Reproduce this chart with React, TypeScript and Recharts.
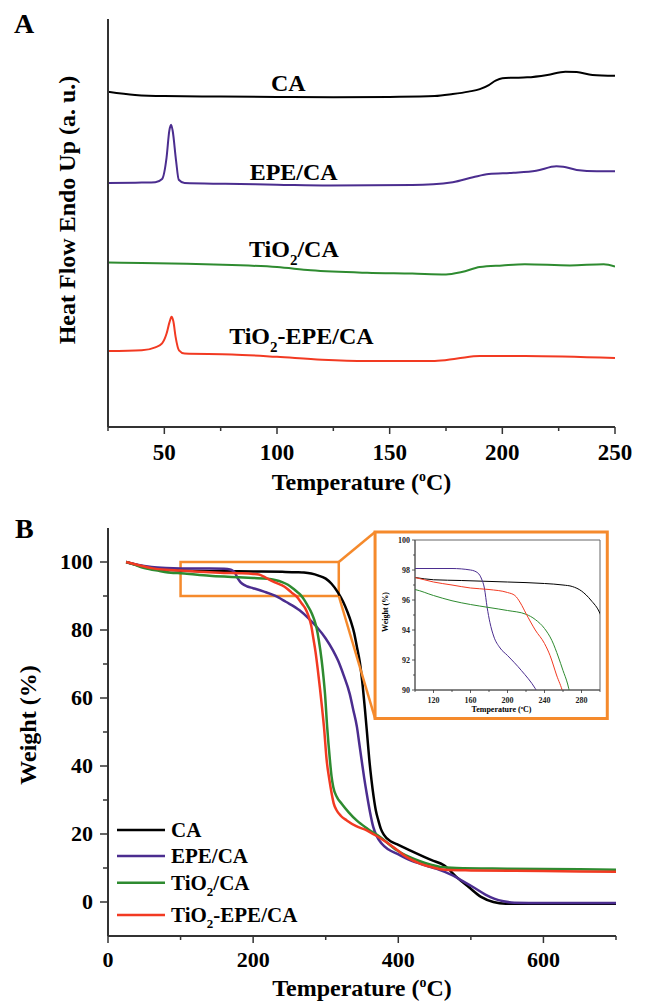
import React from 'react'
import {
  LineChart,
  Line,
  XAxis,
  YAxis,
  ReferenceArea,
  ReferenceLine,
  ReferenceDot,
  Legend,
} from 'recharts'

type Pt = [number, number]

// ---------- Panel A: DSC, heat flow in arbitrary units ----------
const dscTicks = [25, 50, 75, 100, 125, 150, 175, 200, 225, 250]

const dscCA: Pt[] = [
  [25, 82.2], [37, 81.4], [50, 81.1], [75, 81.0], [100, 80.9], [125, 80.8], [150, 80.9],
  [170, 81.1], [178, 81.6], [185, 82.2], [190, 82.8], [194, 83.8], [197, 84.9], [200, 85.5],
  [205, 85.6], [211, 85.7], [220, 86.3], [228, 87.1], [233, 87.0], [240, 86.3], [250, 86.1],
]
const dscEPE: Pt[] = [
  [25, 59.8], [40, 59.9], [46, 60.0], [49, 60.8], [51, 66.1], [52.2, 72.6], [53, 74.1],
  [53.7, 72.6], [55.2, 65.3], [56.4, 60.6], [59, 59.8], [77, 59.6], [100, 59.4], [123, 59.2],
  [160, 59.3], [178, 60.0], [187, 61.2], [194, 62.0], [205, 62.3], [215, 62.8], [224, 63.9],
  [227, 63.8], [233, 63.0], [242, 62.7], [250, 62.7],
]
const dscTiO2: Pt[] = [
  [25, 40.3], [40, 40.2], [60, 40.0], [80, 39.7], [100, 39.2], [115, 38.4], [140, 37.8],
  [160, 37.6], [175, 37.4], [182, 38.0], [190, 39.2], [200, 39.6], [210, 39.9], [230, 39.6],
  [245, 39.9], [250, 39.3],
]
const dscTiO2EPE: Pt[] = [
  [25, 18.6], [40, 18.8], [46, 19.5], [49, 20.5], [51, 22.9], [52.3, 25.7], [53.2, 27.0],
  [54, 25.9], [55, 22.1], [56.5, 18.8], [59, 18.0], [80, 17.8], [100, 17.2], [120, 16.5],
  [140, 16.2], [170, 16.2], [180, 16.8], [190, 17.4], [210, 17.4], [250, 16.9],
]
// where each curve name is written (data coordinates)
const dscLabelAt: Pt[] = [[105, 84.4], [107.4, 62.4], [107.5, 43.7], [110.8, 22.4]]

// ---------- Panel B: TGA, weight % ----------
const tgaXTicks = [0, 100, 200, 300, 400, 500, 600, 700]
const tgaYTicks = [0, 10, 20, 30, 40, 50, 60, 70, 80, 90, 100]

const tgaCA: Pt[] = [
  [25, 100], [40, 99.1], [60, 98.2], [80, 97.7], [100, 97.5], [120, 97.35], [150, 97.3],
  [200, 97.2], [240, 97.1], [260, 97.0], [270, 96.9], [280, 96.6], [290, 96.0], [300, 95.1],
  [308, 93.6], [317, 91.0], [324, 88.3], [330, 85.3], [335, 82.3], [339, 79.3], [343, 75.0],
  [347, 70.5], [351, 63.5], [354, 56.8], [357, 49.5], [360, 42.0], [363, 36.0], [366, 31.0],
  [369, 27.0], [372.5, 24.0], [376, 21.5], [380, 19.8], [390, 17.8], [398, 17.0], [416, 15.2],
  [446, 12.3], [463, 10.8], [480, 7.4], [497, 4.4], [514, 1.5], [531, 0], [548, -0.5],
  [600, -0.5], [700, -0.5],
]
const tgaEPE: Pt[] = [
  [25, 100], [40, 99.2], [60, 98.5], [80, 98.2], [100, 98.1], [140, 98.1], [160, 98.0],
  [168, 97.8], [172, 97.4], [175, 96.8], [178, 95.5], [181, 94.5], [185, 93.6], [192, 92.8],
  [200, 92.3], [215, 91.3], [230, 90.1], [245, 88.3], [264, 85.8], [276, 83.5], [288, 80.8],
  [300, 77.5], [310, 74.0], [317, 71.0], [325, 66.5], [333, 61.3], [338, 56.5], [343, 51.5],
  [346, 47.0], [349.5, 41.7], [353, 36.5], [356.5, 31.9], [361, 26.5], [365.6, 22.0],
  [370, 19.5], [377, 17.2], [386, 15.5], [398, 14.2], [416, 12.3], [440, 10.6], [452, 9.8],
  [475, 7.8], [490, 6.0], [503, 4.4], [520, 2.2], [532, 1.0], [545, 0.2], [560, -0.2],
  [600, -0.3], [700, -0.3],
]
const tgaTiO2: Pt[] = [
  [25, 100], [35, 99.3], [50, 98.2], [70, 97.4], [90, 96.8], [100, 96.7], [120, 96.3],
  [140, 95.95], [160, 95.7], [180, 95.5], [200, 95.3], [220, 95.05], [230, 94.7], [240, 94.1],
  [248, 93.3], [255, 92.2], [260, 91.3], [265, 90.4], [270, 89.0], [275, 87.2], [281, 84.8],
  [284.5, 82.8], [287.5, 80.5], [290.5, 77.0], [294.4, 71.1], [297, 66.0], [299, 61.3],
  [302, 51.5], [305.8, 41.7], [308, 37.0], [310.4, 33.8], [315, 31.0], [322, 28.9],
  [332, 26.3], [342.6, 24.0], [358, 21.5], [375, 19.1], [398, 15.2], [416, 13.2], [430, 12.0],
  [445, 11.0], [458, 10.3], [480, 10.0], [550, 9.8], [650, 9.6], [700, 9.5],
]
const tgaTiO2EPE: Pt[] = [
  [25, 100], [40, 99.2], [60, 98.2], [80, 97.7], [100, 97.5], [120, 97.2], [140, 97.0],
  [160, 96.8], [180, 96.7], [200, 96.5], [208, 96.3], [214, 95.8], [220, 95.1], [230, 94.0],
  [240, 93.1], [246, 92.3], [253, 91.0], [260, 89.8], [267, 87.8], [272, 86.3], [276, 84.3],
  [280, 81.3], [283, 77.5], [286, 73.5], [289, 68.5], [292, 63.0], [295, 57.0], [297.6, 51.5],
  [301.3, 41.7], [305, 36.0], [308.2, 31.9], [311, 29.0], [315, 27.0], [321, 25.3],
  [329, 24.0], [342, 22.3], [356.5, 21.1], [372.5, 19.1], [393, 16.2], [411.6, 13.2],
  [430, 11.3], [447, 10.2], [464, 9.5], [500, 9.3], [600, 9.1], [700, 8.9],
]

// zoomed window and the box that holds the inset (data coordinates of panel B)
const zoomBox = { x1: 100, x2: 318, y1: 90, y2: 100 }
const insetBox = { x1: 368, x2: 688, y1: 54, y2: 108.8 }

const insetXTicks = [100, 120, 140, 160, 180, 200, 220, 240, 260, 280, 300]
const insetYTicks = [90, 91, 92, 93, 94, 95, 96, 97, 98, 99, 100]

const names = ['CA', 'EPE/CA', 'TiO2/CA', 'TiO2-EPE/CA']
const colors = ['#000000', '#4b2d8f', '#2e8b30', '#f23a22']

const dscSets = [dscCA, dscEPE, dscTiO2, dscTiO2EPE]
const tgaSets = [tgaCA, tgaEPE, tgaTiO2, tgaTiO2EPE]

const SERIF = '"Liberation Serif", "Times New Roman", serif'
const AXIS = '#333'
const ORANGE = '#f58a2c'

const rows = (pts: Pt[]) => pts.map(([x, y]) => ({ x, y }))

// "TiO2" -> TiO with subscript 2
function chem(name: string, subSize: number, shift: number) {
  const i = name.indexOf('2')
  if (i < 0) return name
  return [
    <tspan key="a">{name.slice(0, i)}</tspan>,
    <tspan key="b" fontSize={subSize} dy={shift}>2</tspan>,
    <tspan key="c" dy={-shift}>{name.slice(i + 1)}</tspan>,
  ]
}

const bottomTick = (isMajor: (v: number) => boolean, majLen: number, minLen: number,
  size: number, dy: number, sw: number, color = '#000') => (p: any) => {
  const v = p.payload.value
  const major = isMajor(v)
  return (
    <g>
      <line x1={p.x} x2={p.x} y1={p.y} y2={p.y + (major ? majLen : minLen)} stroke={AXIS} strokeWidth={sw} />
      {major && (
        <text x={p.x} y={p.y + dy} textAnchor="middle" fontFamily={SERIF} fontWeight="bold" fontSize={size} fill={color}>
          {v}
        </text>
      )}
    </g>
  )
}

const leftTick = (isMajor: (v: number) => boolean, majLen: number, minLen: number,
  size: number, gap: number, sw: number, color = '#000') => (p: any) => {
  const v = p.payload.value
  const major = isMajor(v)
  return (
    <g>
      <line x1={p.x} x2={p.x - (major ? majLen : minLen)} y1={p.y} y2={p.y} stroke={AXIS} strokeWidth={sw} />
      {major && (
        <text x={p.x - gap} y={p.y + size * 0.34} textAnchor="end" fontFamily={SERIF} fontWeight="bold" fontSize={size} fill={color}>
          {v}
        </text>
      )}
    </g>
  )
}

const tempTitle = (down: number, size: number, shiftX = 0) => (p: any) => {
  const vb = p.viewBox || { x: 0, y: 0, width: 0 }
  const cx = vb.x + vb.width / 2 + shiftX
  const y = vb.y + down
  return (
    <text x={cx} y={y} textAnchor="middle" fontFamily={SERIF} fontWeight="bold" fontSize={size} fill="#000">
      Temperature (<tspan fontSize={size * 0.58} dy={-size * 0.38}>o</tspan>
      <tspan dy={size * 0.38}>C)</tspan>
    </text>
  )
}

const yTitle = (text: string, bx: number, cy: number, size: number) => () => (
  <text x={bx} y={cy} transform={`rotate(-90 ${bx} ${cy})`} textAnchor="middle"
    fontFamily={SERIF} fontWeight="bold" fontSize={size} fill="#000">
    {text}
  </text>
)

const curveLabel = (name: string) => (p: any) => {
  const vb = p.viewBox || { x: 0, y: 0 }
  const x = vb.x + (vb.width || 0) / 2
  const y = vb.y + (vb.height || 0) / 2 + 8
  return (
    <text x={x} y={y} textAnchor="middle" fontFamily={SERIF} fontWeight="bold" fontSize={24} fill="#000">
      {chem(name, 15, 8)}
    </text>
  )
}

// legend drawn in the series order, not the library's sorted order
const legendRowY = [15, 41, 67.7, 100]
const renderLegend = () => (
  <svg width={240} height={115} style={{ display: 'block' }}>
    {names.map((n, i) => (
      <g key={n}>
        <line x1={7} x2={55} y1={legendRowY[i]} y2={legendRowY[i]} stroke={colors[i]} strokeWidth={2.5} />
        <text x={61} y={legendRowY[i] + 7} fontFamily={SERIF} fontWeight="bold" fontSize={21} fill="#000">
          {chem(n, 13, 6)}
        </text>
      </g>
    ))}
  </svg>
)

// mirrored top / right axes close the plot frame
function frameAxes(xd: number[], yd: number[]) {
  return [
    <XAxis key="top" xAxisId="top" orientation="top" type="number" dataKey="x" domain={xd}
      allowDataOverflow height={0} tick={false} tickLine={false}
      axisLine={{ stroke: AXIS, strokeWidth: 2 }} />,
    <YAxis key="right" yAxisId="right" orientation="right" type="number" domain={yd}
      allowDataOverflow width={0} tick={false} tickLine={false}
      axisLine={{ stroke: AXIS, strokeWidth: 2 }} />,
  ]
}

function PanelA() {
  return (
    <LineChart width={645} height={500} margin={{ top: 19, right: 30, bottom: 0, left: 0 }}>
      <XAxis dataKey="x" type="number" domain={[25, 250]} ticks={dscTicks} interval={0}
        allowDataOverflow tickSize={0} tickMargin={0} tickLine={false} height={73}
        axisLine={{ stroke: AXIS, strokeWidth: 2 }}
        tick={bottomTick((v) => v % 50 === 0, 7, 4, 23, 33, 1.5)}
        label={tempTitle(63, 24)} />
      <YAxis type="number" domain={[0, 100]} tick={false} tickLine={false} width={108}
        allowDataOverflow axisLine={{ stroke: AXIS, strokeWidth: 2 }}
        label={yTitle('Heat Flow Endo Up (a. u.)', 75, 210, 24)} />
      {frameAxes([25, 250], [0, 100])}
      {dscSets.map((d, i) => (
        <Line key={names[i]} data={rows(d)} dataKey="y" name={names[i]} type="monotone"
          stroke={colors[i]} strokeWidth={2} dot={false} isAnimationActive={false} />
      ))}
      {dscLabelAt.map(([x, y], i) => (
        <ReferenceDot key={'l' + i} x={x} y={y} r={0} fill="none" stroke="none" label={curveLabel(names[i])} />
      ))}
    </LineChart>
  )
}

function PanelB() {
  return (
    <LineChart width={645} height={503} margin={{ top: 28, right: 29, bottom: 0, left: 0 }}>
      <XAxis dataKey="x" type="number" domain={[0, 700]} ticks={tgaXTicks} interval={0}
        allowDataOverflow tickSize={0} tickMargin={0} tickLine={false} height={67}
        axisLine={{ stroke: AXIS, strokeWidth: 2 }}
        tick={bottomTick((v) => v % 200 === 0, 7, 4, 22, 31, 1.5)}
        label={tempTitle(60, 24)} />
      <YAxis type="number" domain={[-10, 110]} ticks={tgaYTicks} interval={0}
        allowDataOverflow tickSize={0} tickMargin={0} tickLine={false} width={108}
        axisLine={{ stroke: AXIS, strokeWidth: 2 }}
        tick={leftTick((v) => v % 20 === 0, 8, 5, 22, 15, 1.5)}
        label={yTitle('Weight (%)', 36, 225, 24)} />
      {frameAxes([0, 700], [-10, 110])}
      {tgaSets.map((d, i) => (
        <Line key={names[i]} data={rows(d)} dataKey="y" name={names[i]} type="monotone"
          stroke={colors[i]} strokeWidth={2.5} dot={false} isAnimationActive={false} />
      ))}
      <ReferenceArea x1={zoomBox.x1} x2={zoomBox.x2} y1={zoomBox.y1} y2={zoomBox.y2}
        fill="none" stroke={ORANGE} strokeWidth={2.5} />
      <ReferenceLine segment={[{ x: zoomBox.x2, y: zoomBox.y2 }, { x: insetBox.x1, y: insetBox.y2 }]}
        stroke={ORANGE} strokeWidth={2.5} ifOverflow="visible" />
      <ReferenceLine segment={[{ x: zoomBox.x2, y: zoomBox.y1 }, { x: insetBox.x1, y: insetBox.y1 }]}
        stroke={ORANGE} strokeWidth={2.5} ifOverflow="visible" />
      <ReferenceArea x1={insetBox.x1} x2={insetBox.x2} y1={insetBox.y1} y2={insetBox.y2}
        fill="#ffffff" fillOpacity={1} stroke={ORANGE} strokeWidth={3} />
      <Legend verticalAlign="middle" align="center" layout="horizontal" content={renderLegend}
        wrapperStyle={{ left: 110, top: 315, width: 240, height: 115 }} />
    </LineChart>
  )
}

function Inset() {
  const ink = '#222'
  return (
    <LineChart width={226} height={181} margin={{ top: 5, right: 5, bottom: 0, left: 0 }}>
      <XAxis dataKey="x" type="number" domain={[100, 300]} ticks={insetXTicks} interval={0}
        allowDataOverflow tickSize={0} tickMargin={0} tickLine={false} height={26}
        axisLine={{ stroke: '#555', strokeWidth: 1 }}
        tick={bottomTick((v) => v % 40 === 0, 3, 2, 8, 12.5, 0.8, ink)}
        label={tempTitle(22, 8, -6)} />
      <YAxis type="number" domain={[90, 100]} ticks={insetYTicks} interval={0}
        allowDataOverflow tickSize={0} tickMargin={0} tickLine={false} width={36}
        axisLine={{ stroke: '#555', strokeWidth: 1 }}
        tick={leftTick((v) => v % 2 === 0, 3, 2, 8, 5, 0.8, ink)}
        label={yTitle('Weight (%)', 9, 77, 8)} />
      <ReferenceArea x1={100} x2={300} y1={90} y2={100} fill="none" stroke="#666" strokeWidth={1} />
      {tgaSets.map((d, i) => (
        <Line key={names[i]} data={rows(d)} dataKey="y" name={names[i]} type="monotone"
          stroke={colors[i]} strokeWidth={1} dot={false} isAnimationActive={false} />
      ))}
    </LineChart>
  )
}

export default function App() {
  return (
    <div style={{ position: 'absolute', left: 0, top: 0, width: 645, height: 1003, background: '#fff' }}>
      <div style={{ position: 'absolute', left: 0, top: 0 }}>
        <PanelA />
      </div>
      <div style={{ position: 'absolute', left: 0, top: 500 }}>
        <PanelB />
      </div>
      <div style={{ position: 'absolute', left: 379, top: 535 }}>
        <Inset />
      </div>
      <svg width={645} height={1003} style={{ position: 'absolute', left: 0, top: 0, pointerEvents: 'none' }}>
        <text x={14} y={33} fontFamily={SERIF} fontWeight="bold" fontSize={28} fill="#000">A</text>
        <text x={15} y={538} fontFamily={SERIF} fontWeight="bold" fontSize={28} fill="#000">B</text>
      </svg>
    </div>
  )
}
